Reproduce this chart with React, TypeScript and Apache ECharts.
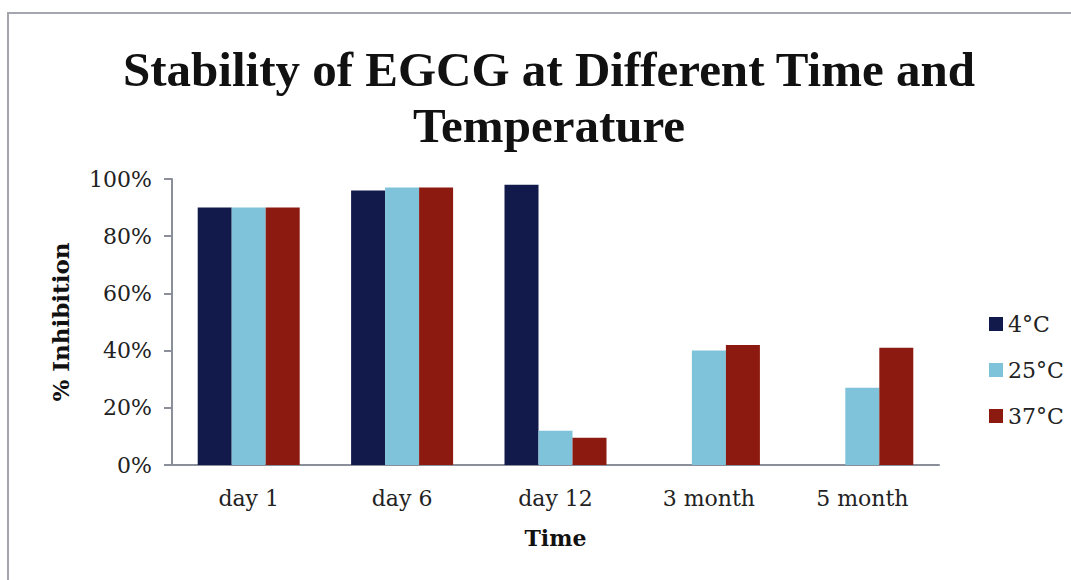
import React, { useEffect, useRef } from "react";
import * as echarts from "echarts";

const categories = ["day 1", "day 6", "day 12", "3 month", "5 month"];
const seriesNames = ["4°C", "25°C", "37°C"];
const values4C: (number | null)[] = [90, 96, 98, null, null];
const values25C: (number | null)[] = [90, 97, 12, 40, 27];
const values37C: (number | null)[] = [90, 97, 9.5, 42, 41];
const colors = ["#111a4a", "#7ec3d9", "#8c1a10"];
const yTicks = { min: 0, max: 100, interval: 20 };

const titleText = "Stability of EGCG at Different Time and\nTemperature";

export default function App() {
  const ref = useRef<HTMLDivElement>(null);
  useEffect(() => {
    if (!ref.current) return;
    const chart = echarts.init(ref.current, undefined, { renderer: "svg" });
    const serif = "DejaVu Serif";
    const allValues = [values4C, values25C, values37C];
    chart.setOption({
      animation: false,
      backgroundColor: "#ffffff",
      title: {
        text: titleText,
        left: 544,
        top: 36,
        textAlign: "center",
        textStyle: {
          fontFamily: "Liberation Serif",
          fontWeight: "bold",
          fontSize: 49,
          lineHeight: 56,
          color: "#111",
        },
      },
      graphic: [
        {
          type: "rect",
          shape: { x: 8, y: 13, width: 1200, height: 700 },
          style: { fill: "none", stroke: "#a3a7ad", lineWidth: 2 },
          silent: true,
        },
      ],
      legend: {
        orient: "vertical",
        left: 984,
        top: 308,
        itemWidth: 14,
        itemHeight: 14,
        itemGap: 24,
        icon: "rect",
        data: seriesNames,
        textStyle: { fontFamily: serif, fontSize: 22, color: "#222" },
      },
      grid: { left: 172, right: 132, top: 179, bottom: 115, containLabel: false },
      xAxis: {
        type: "category",
        data: categories,
        name: "Time",
        nameLocation: "middle",
        nameGap: 62,
        nameTextStyle: { fontFamily: serif, fontWeight: "bold", fontSize: 22, color: "#111" },
        axisLine: { lineStyle: { color: "#8a8f99", width: 2 } },
        axisTick: { show: false },
        axisLabel: { fontFamily: serif, fontSize: 22, color: "#222", margin: 22 },
      },
      yAxis: {
        type: "value",
        min: yTicks.min,
        max: yTicks.max,
        interval: yTicks.interval,
        name: "% Inhibition",
        nameLocation: "middle",
        nameGap: 100,
        nameTextStyle: { fontFamily: serif, fontWeight: "bold", fontSize: 23, color: "#111" },
        axisLine: { show: true, lineStyle: { color: "#8a8f99", width: 2 } },
        axisTick: { show: true, length: 8, lineStyle: { color: "#8a8f99", width: 2 } },
        splitLine: { show: false },
        axisLabel: { fontFamily: serif, fontSize: 22, color: "#222", margin: 20, formatter: "{value}%" },
      },
      series: seriesNames.map((name, i) => ({
        name,
        type: "bar",
        data: allValues[i],
        barWidth: 34,
        barGap: "0%",
        itemStyle: { color: colors[i] },
      })),
    });
    return () => chart.dispose();
  }, []);
  return (
    <div
      ref={ref}
      style={{ position: "fixed", left: 0, top: 0, width: 1071, height: 580 }}
    />
  );
}
